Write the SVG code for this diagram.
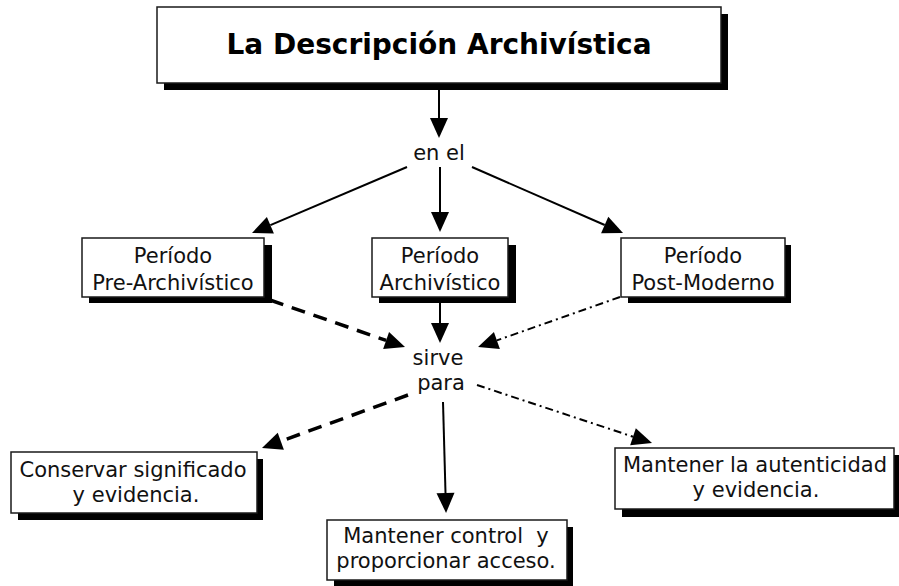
<svg xmlns="http://www.w3.org/2000/svg" width="899" height="586" viewBox="0 0 899 586">
  <style>
    .box { fill: #ffffff; stroke: #1a1a1a; stroke-width: 1.5; }
    .shadow { fill: #000000; }
    .t { font-family: "DejaVu Sans", Verdana, sans-serif; font-size: 21px; fill: #111111; text-anchor: middle; }
    .title { font-family: "DejaVu Sans", Verdana, sans-serif; font-size: 28px; font-weight: bold; fill: #000000; text-anchor: middle; }
    .solid { stroke: #000000; stroke-width: 2; fill: none; marker-end: url(#arrow); }
    .dash { stroke: #000000; stroke-width: 3.5; fill: none; stroke-dasharray: 14 9; marker-end: url(#arrow); }
    .dashdot { stroke: #000000; stroke-width: 2; fill: none; stroke-dasharray: 8 4 2 4; marker-end: url(#arrow); }
  </style>
  <defs>
    <marker id="arrow" markerUnits="userSpaceOnUse" markerWidth="20" markerHeight="18" refX="0" refY="9" orient="auto" overflow="visible">
      <path d="M0,0 L20,9 L0,18 Z" fill="#000000" stroke="none"/>
    </marker>
  </defs>
  <rect width="899" height="586" fill="#ffffff"/>

  <!-- connectors -->
  <g id="connectors">
    <line class="solid" x1="439" y1="90" x2="439" y2="118"/>
    <line class="solid" x1="407" y1="167" x2="270.4" y2="225.2"/>
    <line class="solid" x1="440" y1="167" x2="440" y2="212"/>
    <line class="solid" x1="472" y1="167" x2="604.7" y2="225"/>
    <line class="dash" x1="270" y1="300" x2="386.1" y2="340.4"/>
    <line class="solid" x1="440" y1="303" x2="440" y2="323"/>
    <line class="dashdot" x1="620" y1="297" x2="496.9" y2="340.4"/>
    <line class="dash" x1="408" y1="395" x2="280.8" y2="441.2"/>
    <line class="solid" x1="443" y1="402" x2="445.5" y2="493"/>
    <line class="dashdot" x1="477" y1="385" x2="633" y2="436.7"/>
  </g>

  <!-- title -->
  <g id="title">
    <rect class="shadow" x="164" y="14" width="564" height="76"/>
    <rect class="box" x="157" y="7" width="564" height="76"/>
    <text class="title" x="439" y="54">La Descripción Archivística</text>
  </g>

  <!-- linking phrases -->
  <g id="en-el">
    <text class="t" x="439" y="160">en el</text>
  </g>
  <g id="sirve-para">
    <text class="t" x="438" y="365">sirve</text>
    <text class="t" x="441" y="390">para</text>
  </g>

  <!-- periods -->
  <g id="pre-archivistico">
    <rect class="shadow" x="89" y="245" width="183" height="58"/>
    <rect class="box" x="82" y="238" width="182" height="59"/>
    <text class="t" x="173" y="263">Período</text>
    <text class="t" x="173" y="290">Pre-Archivístico</text>
  </g>
  <g id="archivistico">
    <rect class="shadow" x="379" y="245" width="137" height="58"/>
    <rect class="box" x="372" y="238" width="136" height="59"/>
    <text class="t" x="440" y="263">Período</text>
    <text class="t" x="440" y="290">Archivístico</text>
  </g>
  <g id="post-moderno">
    <rect class="shadow" x="628" y="245" width="163" height="58"/>
    <rect class="box" x="621" y="238" width="164" height="59"/>
    <text class="t" x="703" y="263">Período</text>
    <text class="t" x="703" y="290">Post-Moderno</text>
  </g>

  <!-- purposes -->
  <g id="conservar">
    <rect class="shadow" x="18" y="459" width="245" height="61"/>
    <rect class="box" x="11" y="452" width="246" height="61"/>
    <text class="t" x="133" y="477">Conservar significado</text>
    <text class="t" x="136" y="502">y evidencia.</text>
  </g>
  <g id="control">
    <rect class="shadow" x="334" y="527" width="239" height="62"/>
    <rect class="box" x="327" y="520" width="240" height="60"/>
    <text class="t" x="446" y="543" xml:space="preserve">Mantener control  y</text>
    <text class="t" x="446" y="568">proporcionar acceso.</text>
  </g>
  <g id="autenticidad">
    <rect class="shadow" x="622" y="455" width="285" height="62"/>
    <rect class="box" x="615" y="448" width="279" height="61"/>
    <text class="t" x="755" y="472">Mantener la autenticidad</text>
    <text class="t" x="756" y="497">y evidencia.</text>
  </g>
</svg>
